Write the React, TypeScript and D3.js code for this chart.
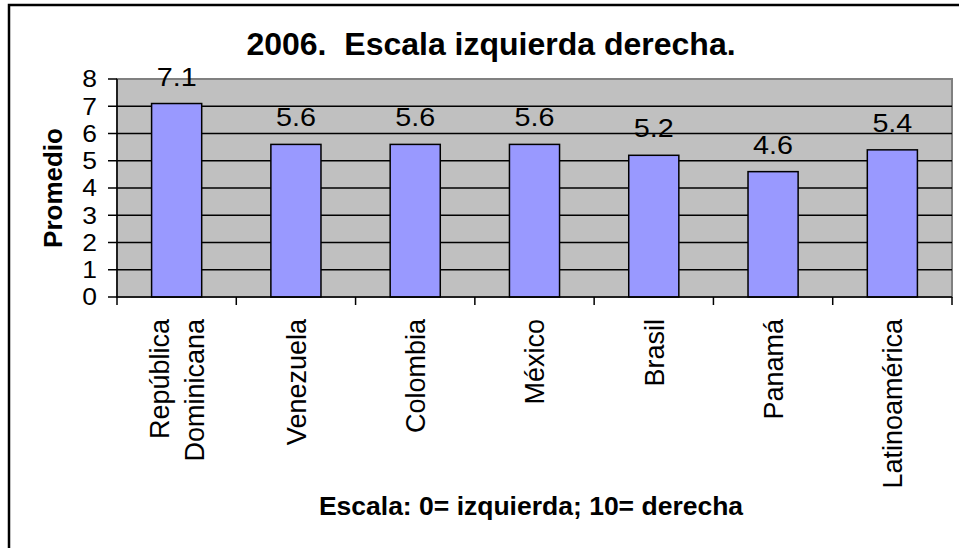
import React from "react";
import * as d3 from "d3";

// chart data
const categories = ["República Dominicana", "Venezuela", "Colombia", "México", "Brasil", "Panamá", "Latinoamérica"];
const promedio = [7.1, 5.6, 5.6, 5.6, 5.2, 4.6, 5.4];
const yTicks = [0, 1, 2, 3, 4, 5, 6, 7, 8];

const W = 959;
const H = 548;
const margin = { top: 79, right: 7, bottom: 251, left: 117 };
const font = "Arial, 'Liberation Sans', sans-serif";
// the original chart text is a bit wider than it is tall
const stretch = 1.15;

export default function App() {
  const x = d3
    .scaleBand<string>()
    .domain(categories)
    .range([margin.left, W - margin.right])
    .paddingInner(0.58)
    .paddingOuter(0.29);
  const y = d3.scaleLinear().domain([0, 8]).range([H - margin.bottom, margin.top]);

  const x0 = margin.left;
  const x1 = W - margin.right;
  // boundaries between categories, for the tick marks
  const bounds = d3.range(categories.length + 1).map((i) => x0 + (i * (x1 - x0)) / categories.length);

  return (
    <svg width={W} height={H} style={{ position: "absolute", left: 0, top: 0, background: "#fff" }}>
      {/* outer frame */}
      <rect x={9} y={5} width={W + 20} height={H + 20} fill="#fff" stroke="#000" strokeWidth={2.5} />

      <text x={491} y={55} textAnchor="middle" fontFamily={font} fontWeight="bold" fontSize={32}>
        2006.{"\u00a0\u00a0"}Escala izquierda derecha.
      </text>

      {/* plot area */}
      <rect x={x0} y={y(8)} width={x1 - x0} height={y(0) - y(8)} fill="#c0c0c0" stroke="#808080" strokeWidth={2} />
      {yTicks.filter((t) => t > 0 && t < 8).map((t) => (
        <line key={t} x1={x0} x2={x1} y1={y(t)} y2={y(t)} stroke="#000" strokeWidth={1.5} />
      ))}

      {/* bars */}
      {categories.map((c, i) => (
        <rect
          key={c}
          x={x(c)}
          y={y(promedio[i])}
          width={x.bandwidth()}
          height={y(0) - y(promedio[i])}
          fill="#9999ff"
          stroke="#000"
          strokeWidth={1.5}
        />
      ))}
      {categories.map((c, i) => (
        <text
          key={c}
          transform={`translate(${(x(c) as number) + x.bandwidth() / 2},${y(promedio[i]) - 18}) scale(${stretch},1)`}
          textAnchor="middle"
          fontFamily={font}
          fontSize={25}
        >
          {promedio[i].toFixed(1)}
        </text>
      ))}

      {/* y axis */}
      <line x1={x0} x2={x0} y1={y(8)} y2={y(0)} stroke="#000" strokeWidth={1.5} />
      {yTicks.map((t) => (
        <g key={t}>
          <line x1={x0 - 9} x2={x0} y1={y(t)} y2={y(t)} stroke="#000" strokeWidth={1.5} />
          <text
            transform={`translate(97,${y(t)}) scale(${stretch},1)`}
            dy="0.36em"
            textAnchor="end"
            fontFamily={font}
            fontSize={23}
          >
            {t}
          </text>
        </g>
      ))}

      {/* x axis */}
      <line x1={x0} x2={x1} y1={y(0)} y2={y(0)} stroke="#000" strokeWidth={1.5} />
      {bounds.map((b, i) => (
        <line key={i} x1={b} x2={b} y1={y(0)} y2={y(0) + 8} stroke="#000" strokeWidth={1.5} />
      ))}
      {categories.map((c) => {
        const cx = (x(c) as number) + x.bandwidth() / 2;
        const words = c.split(" ");
        const lh = 35;
        return (
          <text
            key={c}
            transform={`translate(${cx},319) rotate(-90)`}
            textAnchor="end"
            fontFamily={font}
            fontSize={27}
          >
            {words.map((w, k) => (
              <tspan key={k} x={0} y={(k - (words.length - 1) / 2) * lh} dy="0.36em">
                {w}
              </tspan>
            ))}
          </text>
        );
      })}

      <text
        transform={`translate(53,${(y(0) + y(8)) / 2}) rotate(-90)`}
        textAnchor="middle"
        dy="0.36em"
        fontFamily={font}
        fontWeight="bold"
        fontSize={26}
      >
        Promedio
      </text>

      <text x={531} y={515} textAnchor="middle" fontFamily={font} fontWeight="bold" fontSize={26.5}>
        Escala: 0= izquierda; 10= derecha
      </text>
    </svg>
  );
}
